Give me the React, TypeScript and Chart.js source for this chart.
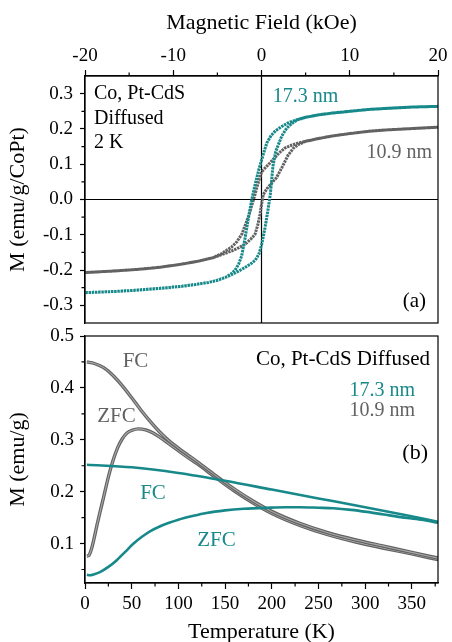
import React, { useEffect, useRef } from "react";
import { Chart, registerables } from "chart.js";
Chart.register(...registerables);

const TEAL = "#17898a";
const GRAY = "#626262";
const GRAY_LIGHT = "#a9a9a9";
const FONT = "'Liberation Serif', 'Times New Roman', serif";

// ---------- Panel (a): M-H loops at 2 K (H in kOe, M in emu/g/CoPt)
const tealDescH = [20, 17, 14, 12, 10, 8, 6.5, 5, 4, 3, 2.3, 1.6, 1.1, 0.6, 0.2, -0.3, -0.7, -1.1, -1.5, -1.9, -2.25, -2.6, -3.0, -3.5, -4.1, -5, -6, -7.5, -9, -11, -13.5, -16, -18, -20];
const tealDescM = [0.264, 0.262, 0.258, 0.255, 0.25, 0.245, 0.24, 0.233, 0.226, 0.217, 0.207, 0.195, 0.182, 0.16, 0.128, 0.085, 0.045, 0.0, -0.055, -0.115, -0.16, -0.184, -0.2, -0.212, -0.221, -0.229, -0.235, -0.241, -0.246, -0.251, -0.256, -0.26, -0.262, -0.264];
const tealAscH = [-20, -18, -16, -13.5, -11, -9, -7.5, -6, -5, -4.1, -3.4, -2.6, -1.9, -1.3, -0.7, -0.3, 0, 0.4, 0.7, 1.0, 1.3, 1.6, 1.9, 2.3, 2.85, 3.4, 4.1, 5, 6.5, 8, 10, 12, 14, 17, 20];
const tealAscM = [-0.264, -0.262, -0.26, -0.256, -0.251, -0.246, -0.241, -0.235, -0.229, -0.221, -0.213, -0.203, -0.193, -0.184, -0.172, -0.155, -0.13, -0.08, -0.035, 0.015, 0.095, 0.135, 0.155, 0.18, 0.202, 0.215, 0.226, 0.233, 0.24, 0.245, 0.25, 0.255, 0.258, 0.262, 0.264];

const grayDescH = [20, 17, 14, 12, 10, 8, 6.5, 5, 4, 3.2, 2.6, 2.0, 1.3, 0.7, 0, -0.4, -0.9, -1.5, -2.2, -2.8, -3.4, -4.5, -5.5, -7, -9, -11.5, -14, -17, -20];
const grayDescM = [0.205, 0.201, 0.197, 0.193, 0.187, 0.18, 0.173, 0.165, 0.159, 0.152, 0.145, 0.132, 0.113, 0.097, 0.078, 0.045, 0.0, -0.05, -0.097, -0.12, -0.135, -0.153, -0.165, -0.174, -0.183, -0.192, -0.198, -0.203, -0.207];
const grayAscH = [-20, -17, -14, -11.5, -9, -7, -5.5, -4.5, -3.4, -2.6, -1.87, -1.2, -0.74, -0.4, -0.17, 0, 0.2, 0.6, 1.0, 1.7, 2.3, 3.0, 3.6, 4.2, 5, 6.5, 8, 10, 12, 14, 17, 20];
const grayAscM = [-0.207, -0.203, -0.198, -0.192, -0.183, -0.174, -0.165, -0.156, -0.146, -0.137, -0.127, -0.112, -0.099, -0.07, -0.042, -0.015, 0.014, 0.03, 0.042, 0.062, 0.09, 0.125, 0.145, 0.156, 0.165, 0.173, 0.18, 0.187, 0.193, 0.197, 0.201, 0.205];

const xTicksA = [-20, -10, 0, 10, 20];
const xTickLabelsA = ["-20", "-10", "0", "10", "20"];
const xMinorA = [-15, -5, 5, 15];
const yTicksA = [-0.3, -0.2, -0.1, 0, 0.1, 0.2, 0.3];
const yTickLabelsA = ["-0.3", "-0.2", "-0.1", "0.0", "0.1", "0.2", "0.3"];
const yMinorA = [-0.25, -0.15, -0.05, 0.05, 0.15, 0.25];

// ---------- Panel (b): FC / ZFC (T in K, M in emu/g)
const grayFCT = [2, 10, 20, 30, 40, 50, 60, 70, 80, 90, 100, 110, 120, 140, 160, 180, 200, 230, 260, 290, 320, 350, 378];
const grayFCM = [0.45, 0.447, 0.439, 0.424, 0.404, 0.381, 0.357, 0.335, 0.315, 0.298, 0.284, 0.271, 0.258, 0.231, 0.205, 0.182, 0.162, 0.139, 0.121, 0.107, 0.095, 0.083, 0.072];
const grayZFCT = [2, 4, 7, 10, 13, 16, 20, 25, 30, 35, 40, 45, 50, 57, 65, 73, 80, 90, 100, 110, 120, 140, 160, 180, 200, 230, 260, 290, 320, 350, 378];
const grayZFCM = [0.076, 0.077, 0.09, 0.112, 0.137, 0.16, 0.19, 0.228, 0.26, 0.285, 0.302, 0.313, 0.318, 0.321, 0.319, 0.313, 0.305, 0.292, 0.279, 0.266, 0.254, 0.227, 0.201, 0.178, 0.158, 0.135, 0.117, 0.103, 0.091, 0.08, 0.069];
const tealFCT = [2, 50, 100, 150, 200, 250, 300, 340, 378];
const tealFCM = [0.252, 0.247, 0.236, 0.221, 0.204, 0.187, 0.17, 0.156, 0.142];
const tealZFCT = [2, 5, 10, 16, 25, 34, 43, 52, 61, 70, 80, 90, 100, 115, 130, 150, 170, 195, 215, 230, 250, 266, 285, 302, 320, 338, 360, 378];
const tealZFCM = [0.04, 0.039, 0.041, 0.045, 0.055, 0.068, 0.084, 0.1, 0.113, 0.124, 0.133, 0.14, 0.146, 0.153, 0.159, 0.164, 0.167, 0.169, 0.17, 0.17, 0.169, 0.168, 0.165, 0.161, 0.156, 0.151, 0.146, 0.14];

const xTicksB = [0, 50, 100, 150, 200, 250, 300, 350];
const xTickLabelsB = ["0", "50", "100", "150", "200", "250", "300", "350"];
const xMinorB = [25, 75, 125, 175, 225, 275, 325, 375];
const yTicksB = [0.1, 0.2, 0.3, 0.4, 0.5];
const yTickLabelsB = ["0.1", "0.2", "0.3", "0.4", "0.5"];
const yMinorB = [0.05, 0.15, 0.25, 0.35, 0.45];

const pts = (xs: number[], ys: number[]) => xs.map((x, i) => ({ x, y: ys[i] }));

const fix = (w?: number, h?: number) => (scale: any) => {
  if (w !== undefined) scale.width = w;
  if (h !== undefined) scale.height = h;
  scale.paddingTop = 0;
  scale.paddingBottom = 0;
  scale.paddingLeft = 0;
  scale.paddingRight = 0;
};

const decorPlugin = {
  id: "decor",
  beforeDatasetsDraw(chart: any, _a: any, opts: any) {
    if (!opts.zeroLines) return;
    const { ctx, chartArea: a, scales } = chart;
    const px = scales.x.getPixelForValue(0);
    const py = scales.y.getPixelForValue(0);
    ctx.save();
    ctx.strokeStyle = "#000";
    ctx.lineWidth = 1.2;
    ctx.beginPath();
    ctx.moveTo(a.left, py);
    ctx.lineTo(a.right, py);
    ctx.moveTo(px, a.top);
    ctx.lineTo(px, a.bottom);
    ctx.stroke();
    ctx.restore();
  },
  afterDatasetsDraw(chart: any, _a: any, opts: any) {
    const { ctx, chartArea: a, scales } = chart;
    const xs = scales.x;
    const ys = scales.y;
    ctx.save();
    ctx.strokeStyle = "#000";
    ctx.lineWidth = 1.2;
    ctx.strokeRect(a.left, a.top, a.right - a.left, a.bottom - a.top);
    ctx.beginPath();
    for (const v of opts.xMinor) {
      const p = xs.getPixelForValue(v);
      if (opts.xTop) {
        ctx.moveTo(p, a.top);
        ctx.lineTo(p, a.top - 3.5);
      } else {
        ctx.moveTo(p, a.bottom);
        ctx.lineTo(p, a.bottom + 3.5);
      }
    }
    for (const v of opts.yMinor) {
      const p = ys.getPixelForValue(v);
      ctx.moveTo(a.left, p);
      ctx.lineTo(a.left - 3.5, p);
    }
    ctx.stroke();
    for (const t of opts.labels) {
      ctx.font = `${t.size}px ${FONT}`;
      ctx.fillStyle = t.color;
      ctx.textAlign = t.align;
      ctx.textBaseline = "middle";
      ctx.fillText(t.text, xs.getPixelForValue(t.x), ys.getPixelForValue(t.y));
    }
    ctx.restore();
  },
};

const tickFont = { family: FONT, size: 19 };
const titleFont = { family: FONT, size: 22 };

const labelsA = [
  { text: "Co, Pt-CdS", x: -18.98, y: 0.299, color: "#000", align: "left", size: 20 },
  { text: "Diffused", x: -18.98, y: 0.228, color: "#000", align: "left", size: 20 },
  { text: "2 K", x: -18.98, y: 0.16, color: "#000", align: "left", size: 20 },
  { text: "17.3 nm", x: 1.27, y: 0.291, color: TEAL, align: "left", size: 20 },
  { text: "10.9 nm", x: 19.32, y: 0.133, color: GRAY, align: "right", size: 20 },
  { text: "(a)", x: 18.64, y: -0.29, color: "#000", align: "right", size: 21 },
];

const labelsB = [
  { text: "Co, Pt-CdS Diffused", x: 369.4, y: 0.455, color: "#000", align: "right", size: 21 },
  { text: "17.3 nm", x: 353.4, y: 0.395, color: TEAL, align: "right", size: 20 },
  { text: "10.9 nm", x: 353.4, y: 0.3555, color: GRAY, align: "right", size: 20 },
  { text: "(b)", x: 367.3, y: 0.274, color: "#000", align: "right", size: 22 },
  { text: "FC", x: 54.1, y: 0.45, color: GRAY, align: "center", size: 21 },
  { text: "ZFC", x: 33.7, y: 0.344, color: GRAY, align: "center", size: 21 },
  { text: "FC", x: 72.8, y: 0.197, color: TEAL, align: "center", size: 21 },
  { text: "ZFC", x: 140.8, y: 0.106, color: TEAL, align: "center", size: 21 },
];

const gridOpts = (len: number) => ({
  drawOnChartArea: false,
  drawTicks: true,
  tickLength: len,
  tickColor: "#000",
  tickWidth: 1.2,
});
const borderOpts = { display: true, color: "#000", width: 1.2 };

export default function App() {
  const refA = useRef<HTMLCanvasElement>(null);
  const refB = useRef<HTMLCanvasElement>(null);

  useEffect(() => {
    const loopStyle = (c: string) => ({
      borderColor: c,
      borderWidth: 3,
      borderDash: [2.4, 0.8],
      pointRadius: 0,
      tension: 0,
      fill: false,
    });
    const chartA = new Chart(refA.current!, {
      type: "line",
      data: {
        datasets: [
          { data: [...pts(tealDescH, tealDescM), ...pts(tealAscH, tealAscM)], ...loopStyle(TEAL) },
          { data: [...pts(grayDescH, grayDescM), ...pts(grayAscH, grayAscM)], ...loopStyle(GRAY) },
        ] as any,
      },
      options: {
        animation: false,
        responsive: false,
        events: [],
        layout: { padding: { left: 0, right: 14, top: 0, bottom: 6 } },
        plugins: {
          legend: { display: false },
          tooltip: { enabled: false },
          decor: { zeroLines: true, xTop: true, xMinor: xMinorA, yMinor: yMinorA, labels: labelsA },
        } as any,
        scales: {
          x: {
            type: "linear",
            position: "top",
            min: -20,
            max: 20,
            afterBuildTicks: (s: any) => { s.ticks = xTicksA.map((v) => ({ value: v })); },
            afterFit: fix(undefined, 76),
            ticks: { font: tickFont, color: "#000", padding: 3, maxRotation: 0, autoSkip: false, callback: (_v: any, i: number) => xTickLabelsA[i] },
            grid: gridOpts(6),
            border: borderOpts,
            title: { display: true, text: "Magnetic Field (kOe)", font: titleFont, color: "#000", padding: { top: 10, bottom: 0 } },
          },
          y: {
            type: "linear",
            position: "left",
            min: -0.35,
            max: 0.35,
            afterBuildTicks: (s: any) => { s.ticks = yTicksA.map((v) => ({ value: v })); },
            afterFit: fix(85),
            ticks: { font: tickFont, color: "#000", padding: 7, autoSkip: false, callback: (_v: any, i: number) => yTickLabelsA[i] },
            grid: gridOpts(5),
            border: borderOpts,
            title: { display: true, text: "M (emu/g/CoPt)", font: titleFont, color: "#000", padding: { top: 5, bottom: 0 } },
          },
        },
      } as any,
      plugins: [decorPlugin],
    });

    const tube = (xs: number[], ys: number[], inner: boolean) => ({
      data: pts(xs, ys),
      borderColor: inner ? GRAY_LIGHT : GRAY,
      borderWidth: inner ? 1.1 : 3.4,
      pointRadius: 0,
      cubicInterpolationMode: "monotone",
      fill: false,
    });
    const tealLine = (xs: number[], ys: number[]) => ({
      data: pts(xs, ys),
      borderColor: TEAL,
      borderWidth: 2.6,
      pointRadius: 0,
      cubicInterpolationMode: "monotone",
      fill: false,
    });

    const chartB = new Chart(refB.current!, {
      type: "line",
      data: {
        datasets: [
          tealLine(tealFCT, tealFCM),
          tealLine(tealZFCT, tealZFCM),
          tube(grayFCT, grayFCM, true),
          tube(grayFCT, grayFCM, false),
          tube(grayZFCT, grayZFCM, true),
          tube(grayZFCT, grayZFCM, false),
        ] as any,
      },
      options: {
        animation: false,
        responsive: false,
        events: [],
        layout: { padding: { left: 0, right: 14, top: 18, bottom: 0 } },
        plugins: {
          legend: { display: false },
          tooltip: { enabled: false },
          decor: { zeroLines: false, xTop: false, xMinor: xMinorB, yMinor: yMinorB, labels: labelsB },
        } as any,
        scales: {
          x: {
            type: "linear",
            position: "bottom",
            min: 0,
            max: 378,
            afterBuildTicks: (s: any) => { s.ticks = xTicksB.map((v) => ({ value: v })); },
            afterFit: fix(undefined, 59),
            ticks: { font: tickFont, color: "#000", padding: 4, maxRotation: 0, autoSkip: false, callback: (_v: any, i: number) => xTickLabelsB[i] },
            grid: gridOpts(6),
            border: borderOpts,
            title: { display: true, text: "Temperature (K)", font: titleFont, color: "#000", padding: { top: 0, bottom: -3 } },
          },
          y: {
            type: "linear",
            position: "left",
            min: 0.024,
            max: 0.5,
            afterBuildTicks: (s: any) => { s.ticks = yTicksB.map((v) => ({ value: v })); },
            afterFit: fix(85),
            ticks: { font: tickFont, color: "#000", padding: 6, autoSkip: false, callback: (_v: any, i: number) => yTickLabelsB[i] },
            grid: gridOpts(5),
            border: borderOpts,
            title: { display: true, text: "M (emu/g)", font: titleFont, color: "#000", padding: { top: 5, bottom: 0 } },
          },
        },
      } as any,
      plugins: [decorPlugin],
    });

    return () => {
      chartA.destroy();
      chartB.destroy();
    };
  }, []);

  return (
    <div style={{ position: "fixed", left: 0, top: 0, width: 452, height: 642, background: "#fff", overflow: "hidden" }}>
      <canvas ref={refA} width={452} height={329} style={{ position: "absolute", left: 0, top: 0 }} />
      <canvas ref={refB} width={452} height={324} style={{ position: "absolute", left: 0, top: 318 }} />
    </div>
  );
}
